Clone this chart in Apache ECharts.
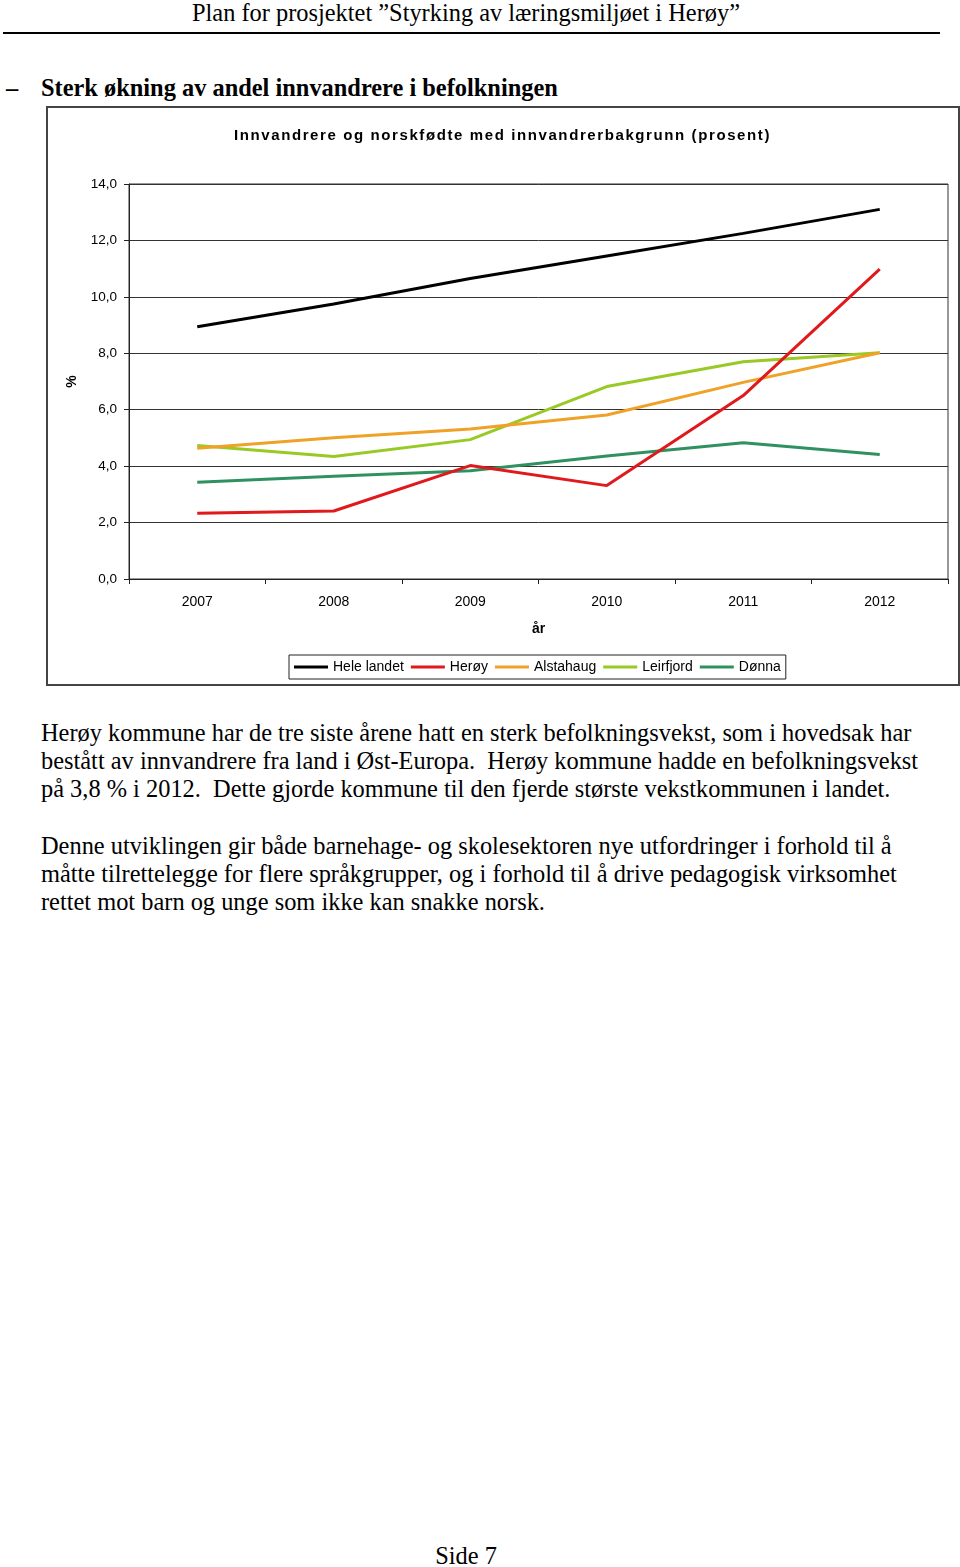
<!DOCTYPE html>
<html>
<head>
<meta charset="utf-8">
<script src="https://cdn.jsdelivr.net/npm/echarts@6/dist/echarts.min.js"></script>
<style>
  html, body { margin:0; padding:0; background:#fff; }
  body { width:960px; height:1567px; position:relative; overflow:hidden; font-family:"Liberation Serif","Times New Roman",serif; color:#000; }
  .t { position:absolute; white-space:nowrap; font-size:24.4px; line-height:28px; }
  #rule { position:absolute; left:3px; top:32px; width:937px; height:2px; background:#000; }
  #frame { position:absolute; left:46px; top:106px; width:910px; height:576px; border:2px solid #444; }
  #chart { position:absolute; left:47px; top:107px; width:911px; height:577px; }
  #ctitle { position:absolute; left:47px; width:911px; top:125px; text-align:center; font-family:"Liberation Sans",Arial,sans-serif; font-weight:bold; font-size:15px; line-height:20px; letter-spacing:1.6px; white-space:nowrap; }
</style>
</head>
<body>
<div class="t" style="left:0;width:932px;text-align:center;top:-1px;">Plan for prosjektet ”Styrking av læringsmiljøet i Herøy”</div>
<div id="rule"></div>
<div class="t" style="left:6px;top:74px;font-weight:bold;">–</div>
<div class="t" style="left:41px;top:74px;font-weight:bold;">Sterk økning av andel innvandrere i befolkningen</div>
<div id="frame"></div>
<div id="chart"></div>
<div id="ctitle">Innvandrere og norskfødte med innvandrerbakgrunn (prosent)</div>
<div class="t" style="left:41px;top:719px;">Herøy kommune har de tre siste årene hatt en sterk befolkningsvekst, som i hovedsak har</div>
<div class="t" style="left:41px;top:747px;">bestått av innvandrere fra land i Øst-Europa.&nbsp; Herøy kommune hadde en befolkningsvekst</div>
<div class="t" style="left:41px;top:775px;">på 3,8 % i 2012.&nbsp; Dette gjorde kommune til den fjerde største vekstkommunen i landet.</div>
<div class="t" style="left:41px;top:832px;">Denne utviklingen gir både barnehage- og skolesektoren nye utfordringer i forhold til å</div>
<div class="t" style="left:41px;top:860px;">måtte tilrettelegge for flere språkgrupper, og i forhold til å drive pedagogisk virksomhet</div>
<div class="t" style="left:41px;top:888px;">rettet mot barn og unge som ikke kan snakke norsk.</div>
<div class="t" style="left:0;width:932px;text-align:center;top:1542px;">Side 7</div>
<script>
const years = ['2007', '2008', '2009', '2010', '2011', '2012'];
const heleLandet = [8.94, 9.75, 10.65, 11.45, 12.25, 13.10];
const heroy = [2.33, 2.41, 4.02, 3.31, 6.50, 10.98];
const alstahaug = [4.63, 5.01, 5.32, 5.81, 6.97, 8.02];
const leirfjord = [4.73, 4.34, 4.94, 6.82, 7.70, 8.02];
const donna = [3.43, 3.64, 3.84, 4.36, 4.83, 4.41];
const seriesNames = ['Hele landet', 'Herøy', 'Alstahaug', 'Leirfjord', 'Dønna'];
const seriesColors = ['#000000', '#e0191c', '#f0a127', '#99c925', '#2f9160'];
const seriesData = [heleLandet, heroy, alstahaug, leirfjord, donna];

const chart = echarts.init(document.getElementById('chart'), null, { renderer: 'canvas' });
const font = '"Liberation Sans", Arial, sans-serif';
chart.setOption({
  animation: false,
  textStyle: { fontFamily: font, color: '#000' },
  grid: { left: 82, right: 10, top: 77, bottom: 105, show: true, borderColor: '#333', borderWidth: 1, containLabel: false },
  legend: {
    data: seriesNames,
    left: 242, top: 548,
    icon: 'rect', itemWidth: 34, itemHeight: 3, itemGap: 7,
    padding: [5, 5, 5, 5],
    borderColor: '#222', borderWidth: 1,
    textStyle: { fontFamily: font, fontSize: 14, color: '#000', padding: [0, 0, 0, 0] }
  },
  xAxis: {
    type: 'category', data: years, boundaryGap: true,
    name: 'år', nameLocation: 'middle', nameGap: 43,
    nameTextStyle: { fontFamily: font, fontSize: 14, fontWeight: 'bold', color: '#000' },
    axisLine: { lineStyle: { color: '#222', width: 1 } },
    axisTick: { show: true, length: 5, alignWithLabel: false, lineStyle: { color: '#222' } },
    axisLabel: { fontFamily: font, fontSize: 14, color: '#000', margin: 16 },
    splitLine: { show: false }
  },
  yAxis: {
    type: 'value', min: 0, max: 14, interval: 2,
    name: '%', nameLocation: 'middle', nameGap: 50, nameRotate: 90,
    nameTextStyle: { fontFamily: font, fontSize: 14, fontWeight: 'bold', color: '#000' },
    axisLine: { show: true, lineStyle: { color: '#222', width: 1 } },
    axisTick: { show: true, length: 5, lineStyle: { color: '#222' } },
    axisLabel: { fontFamily: font, fontSize: 13.5, color: '#000', margin: 12, formatter: v => v.toFixed(1).replace('.', ',') },
    splitLine: { show: true, lineStyle: { color: '#333', width: 1 } }
  },
  series: seriesNames.map((n, i) => ({
    name: n, type: 'line', data: seriesData[i], symbol: 'none',
    lineStyle: { color: seriesColors[i], width: 3 },
    itemStyle: { color: seriesColors[i] },
    z: 10 - i
  }))
});
</script>
</body>
</html>
